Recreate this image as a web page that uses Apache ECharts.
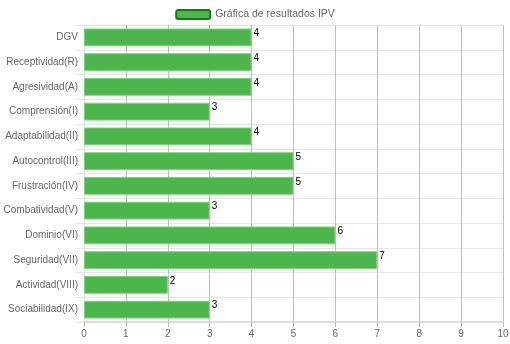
<!DOCTYPE html>
<html><head><meta charset="utf-8">
<script src="https://cdn.jsdelivr.net/npm/echarts@6/dist/echarts.min.js"></script>
<style>html,body{margin:0;padding:0;background:#fff}#c{width:510px;height:344px}</style>
</head><body><div id="c"></div>
<script>
const categories = ["DGV","Receptividad(R)","Agresividad(A)","Comprensión(I)","Adaptabilidad(II)","Autocontrol(III)","Frustración(IV)","Combatividad(V)","Dominio(VI)","Seguridad(VII)","Actividad(VIII)","Sociabilidad(IX)"];
const values = [4,4,4,3,4,5,5,3,6,7,2,3];
const seriesName = "Gráfica de resultados IPV";
const xTicks = [0,1,2,3,4,5,6,7,8,9,10];

const chart = echarts.init(document.getElementById('c'), null, {renderer:'canvas'});
const font = '"Liberation Sans", Arial, sans-serif';
chart.setOption({
  animation:false,
  textStyle:{fontFamily:font},
  legend:{
    top:4, left:'center', itemWidth:34, itemHeight:9, itemGap:6,
    textStyle:{color:'#666', fontSize:10.5, fontFamily:font},
    data:[{name:seriesName, itemStyle:{color:'#4cb64c', borderColor:'#137a13', borderWidth:2}}]
  },
  grid:{left:84, right:7, top:25, bottom:22, containLabel:false, outerBoundsMode:'none'},
  xAxis:{
    type:'value', min:xTicks[0], max:xTicks[xTicks.length-1], interval:1,
    axisLine:{show:true, lineStyle:{color:'#ddd', width:2}},
    axisTick:{show:true, length:5, lineStyle:{color:'#bbb'}},
    axisLabel:{color:'#666', fontSize:10, fontFamily:font, margin:7},
    splitLine:{show:true, lineStyle:{color:'#bdbdbd', width:1}}
  },
  yAxis:{
    type:'category', data:categories, inverse:true,
    axisLine:{show:true, lineStyle:{color:'#ddd', width:1}},
    axisTick:{show:true, length:8, lineStyle:{color:'#e6e6e6'}},
    axisLabel:{color:'#666', fontSize:10, fontFamily:font, margin:6},
    splitLine:{show:true, lineStyle:{color:'#e6e6e6', width:1}}
  },
  series:[{
    name:seriesName, type:'bar', data:values, barCategoryGap:'28%',
    itemStyle:{color:'#4cb64c', borderColor:'#7dd37d', borderWidth:1},
    label:{show:true, position:'right', distance:2, offset:[0,-4], color:'#000', fontSize:10, fontFamily:font}
  }]
});
</script></body></html>
